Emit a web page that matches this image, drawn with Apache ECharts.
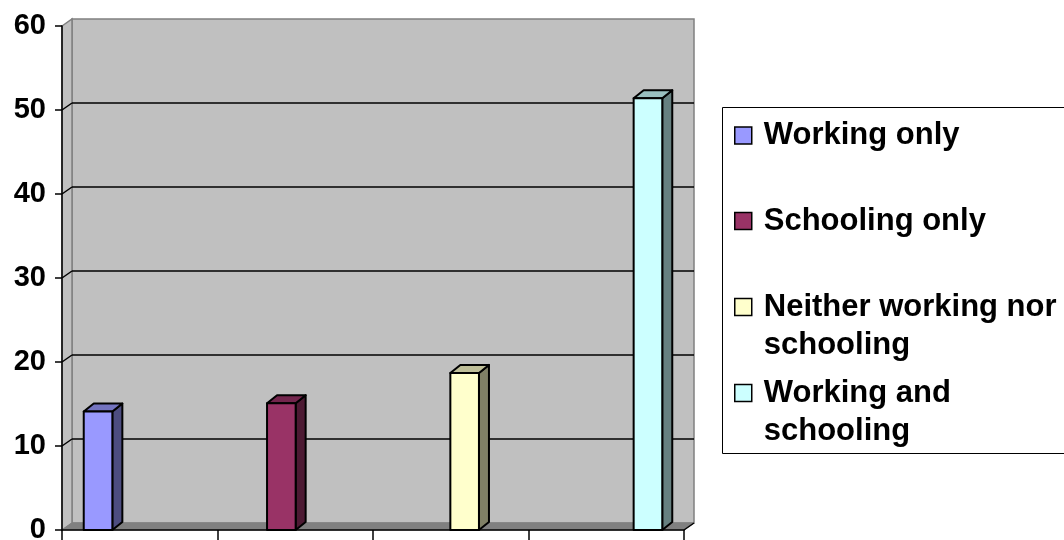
<!DOCTYPE html>
<html>
<head>
<meta charset="utf-8">
<script src="https://cdn.jsdelivr.net/npm/echarts@6/dist/echarts.min.js"></script>
<style>
  html, body { margin: 0; padding: 0; background: #fff; }
  #chart { width: 1064px; height: 540px; }
</style>
</head>
<body>
<div id="chart"></div>
<script>
// Share of respondents by activity status (%)
const categories = [''];
const seriesNames = ['Working only', 'Schooling only', 'Neither working nor schooling', 'Working and schooling'];
const seriesValues = [14.1, 15.1, 18.7, 51.4];
const legendLabels = ['Working only', 'Schooling only', 'Neither working nor\nschooling', 'Working and\nschooling'];
const yTicks = [0, 10, 20, 30, 40, 50, 60];

const FONT = '"Liberation Sans", Arial, sans-serif';
const faceColors = ['#9999FF', '#993366', '#FFFFCC', '#CCFFFF'];

// 3D look: depth offset of walls and columns (pixels)
const WALL_DX = 10, WALL_DY = -7;
const BAR_DX = 10, BAR_DY = -8;
// column width and spacing as fractions of the category band
const BAR_W = 0.046, BAR_PITCH = 0.2947;

function shade(hex, f) {
  const n = parseInt(hex.slice(1), 16);
  const r = Math.round(((n >> 16) & 255) * f);
  const g = Math.round(((n >> 8) & 255) * f);
  const b = Math.round((n & 255) * f);
  return 'rgb(' + r + ',' + g + ',' + b + ')';
}

// back wall, side wall, floor and gridlines
function renderWalls(params, api) {
  const cs = params.coordSys;
  const x0 = cs.x, x1 = cs.x + cs.width;
  const yBase = api.coord([0, yTicks[0]])[1];
  const yTop = api.coord([0, yTicks[yTicks.length - 1]])[1];
  const wallStyle = { fill: '#C0C0C0', stroke: '#808080', lineWidth: 1.5 };
  const children = [
    { type: 'rect', shape: { x: x0 + WALL_DX, y: yTop + WALL_DY, width: x1 - x0, height: yBase - yTop }, style: wallStyle },
    { type: 'polygon', shape: { points: [[x0, yTop], [x0 + WALL_DX, yTop + WALL_DY], [x0 + WALL_DX, yBase + WALL_DY], [x0, yBase]] }, style: wallStyle },
    { type: 'polygon', shape: { points: [[x0, yBase], [x0 + WALL_DX, yBase + WALL_DY], [x1 + WALL_DX, yBase + WALL_DY], [x1, yBase]] }, style: { fill: '#808080', stroke: '#808080', lineWidth: 1 } },
    { type: 'line', shape: { x1: x1, y1: yBase, x2: x1 + WALL_DX, y2: yBase + WALL_DY }, style: { stroke: '#000', lineWidth: 1.5 } }
  ];
  yTicks.slice(1, -1).forEach(function (v) {
    const y = api.coord([0, v])[1];
    children.push({ type: 'line', shape: { x1: x0 + WALL_DX, y1: y + WALL_DY, x2: x1 + WALL_DX, y2: y + WALL_DY }, style: { stroke: '#000', lineWidth: 1.5 } });
    children.push({ type: 'line', shape: { x1: x0, y1: y, x2: x0 + WALL_DX, y2: y + WALL_DY }, style: { stroke: '#000', lineWidth: 1.5 } });
  });
  return { type: 'group', children: children };
}

// a 3D column: front face, top face and right side face
function makeBarRenderer(k) {
  return function (params, api) {
    const base = api.coord([api.value(0), 0]);
    const top = api.coord([api.value(0), api.value(1)]);
    const band = api.size([1, 0])[0];
    const w = band * BAR_W;
    const cx = base[0] + (k - (seriesNames.length - 1) / 2) * band * BAR_PITCH;
    const xl = cx - w / 2, xr = cx + w / 2;
    const yb = base[1], yt = top[1];
    const c = faceColors[k];
    const edge = { stroke: '#000', lineWidth: 2, lineJoin: 'round' };
    return {
      type: 'group',
      children: [
        { type: 'polygon', shape: { points: [[xr, yt], [xr + BAR_DX, yt + BAR_DY], [xr + BAR_DX, yb + BAR_DY], [xr, yb]] }, style: Object.assign({ fill: shade(c, 0.5) }, edge) },
        { type: 'polygon', shape: { points: [[xl, yt], [xl + BAR_DX, yt + BAR_DY], [xr + BAR_DX, yt + BAR_DY], [xr, yt]] }, style: Object.assign({ fill: shade(c, 0.75) }, edge) },
        { type: 'rect', shape: { x: xl, y: yt, width: w, height: yb - yt }, style: Object.assign({ fill: c }, edge) }
      ]
    };
  };
}

const series = [{
  type: 'custom',
  name: 'walls',
  xAxisIndex: 0,
  yAxisIndex: 0,
  clip: false,
  silent: true,
  z: 1,
  data: [[0, 0]],
  encode: { x: 0, y: 1 },
  renderItem: renderWalls
}];
seriesNames.forEach(function (name, k) {
  series.push({
    type: 'custom',
    name: name,
    xAxisIndex: 0,
    yAxisIndex: 0,
    clip: false,
    z: 3,
    itemStyle: { color: faceColors[k], borderColor: '#000', borderWidth: 1 },
    data: [[0, seriesValues[k]]],
    encode: { x: 0, y: 1 },
    renderItem: makeBarRenderer(k)
  });
});

// one legend block per entry, first text line level with its marker
const LINE_H = 38;
const legendCenters = [135.5, 221, 307, 393];
const legends = seriesNames.map(function (name, k) {
  const lines = legendLabels[k].split('\n').length;
  const text = lines > 1 ? '\n' + legendLabels[k] : legendLabels[k];
  const blockH = lines > 1 ? LINE_H * (2 * lines - 1) : LINE_H;
  return {
    data: [name],
    orient: 'vertical',
    left: 734,
    top: legendCenters[k] - blockH / 2,
    icon: 'rect',
    itemWidth: 17,
    itemHeight: 17,
    padding: 0,
    formatter: function () { return text; },
    textStyle: {
      fontFamily: FONT, fontSize: 31, fontWeight: 'bold', color: '#000',
      lineHeight: LINE_H, padding: [0, 0, 0, 7]
    },
    itemStyle: { borderColor: '#000', borderWidth: 1.5 }
  };
});

const option = {
  backgroundColor: '#fff',
  animation: false,
  grid: { left: 62, right: 380, top: 26, bottom: 10, outerBoundsMode: 'none', containLabel: false },
  xAxis: [
    { type: 'category', data: categories, show: false, gridIndex: 0 },
    {
      type: 'value', min: 0, max: 4, interval: 1, position: 'bottom', gridIndex: 0, z: 10,
      axisLine: { show: true, lineStyle: { color: '#000', width: 1.5 } },
      axisTick: { show: true, length: 10, lineStyle: { color: '#000', width: 1.5 } },
      axisLabel: { show: false },
      splitLine: { show: false }
    }
  ],
  yAxis: {
    type: 'value', min: 0, max: 60, interval: 10, z: 10,
    axisLine: { show: true, lineStyle: { color: '#000', width: 1.5 } },
    axisTick: { show: true, length: 7, lineStyle: { color: '#000', width: 1.5 } },
    axisLabel: { fontFamily: FONT, fontSize: 29, fontWeight: 'bold', color: '#000', margin: 16, padding: [5, 0, 0, 0] },
    splitLine: { show: false }
  },
  legend: legends,
  graphic: [{
    type: 'rect',
    z: -1,
    shape: { x: 722.5, y: 107.5, width: 400, height: 346 },
    style: { fill: '#fff', stroke: '#000', lineWidth: 1 }
  }],
  series: series
};

const chart = echarts.init(document.getElementById('chart'), null, { renderer: 'canvas' });
chart.setOption(option);
</script>
</body>
</html>
